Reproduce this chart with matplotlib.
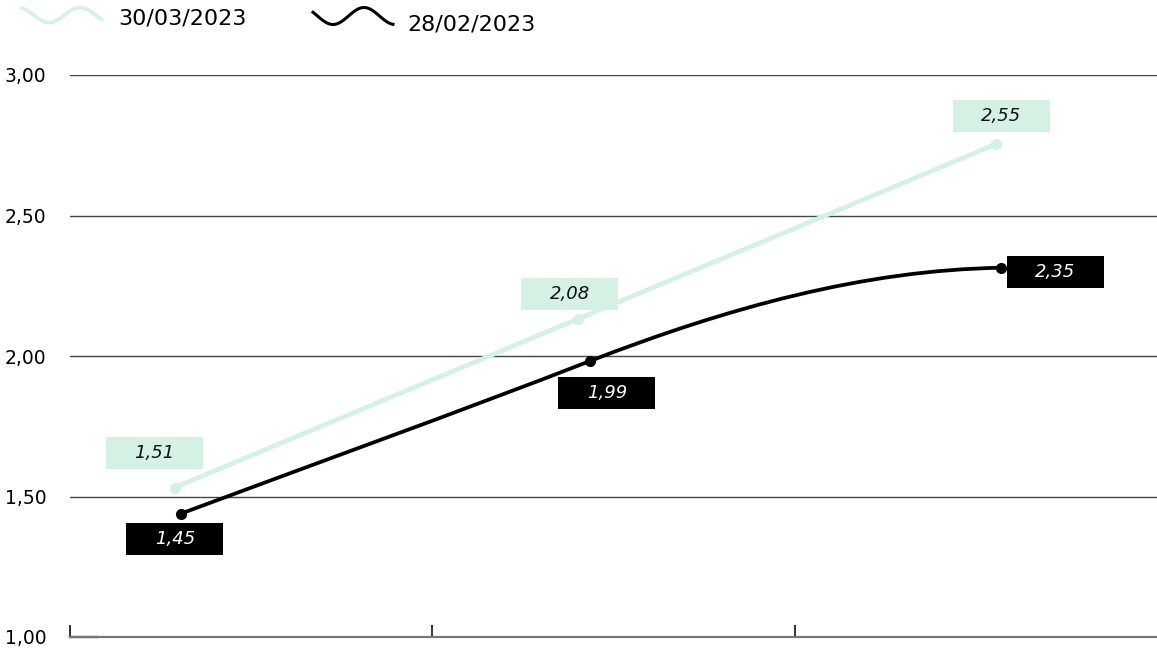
import numpy as np
import matplotlib.pyplot as plt
import matplotlib.transforms as mtransforms
from matplotlib.path import Path
from matplotlib.patches import PathPatch, Rectangle
from matplotlib.lines import Line2D

# data
series_names = ['30/03/2023', '28/02/2023']
x_light = [0.289, 1.402, 2.556]
y_light = [1.532, 2.132, 2.754]
labels_light = ['1,51', '2,08', '2,55']
x_dark = [0.306, 1.435, 2.570]
y_dark = [1.439, 1.982, 2.314]
labels_dark = ['1,45', '1,99', '2,35']
yticks = [1.0, 1.5, 2.0, 2.5, 3.0]
ytick_labels = ['1,00', '1,50', '2,00', '2,50', '3,00']

# curve shape of the dark line (tangent at each point)
dark_tangents = [0.48, 0.50, 0.02]

light = '#d5f1e3'
dark = '#000000'

W, H = 1157, 650
fig = plt.figure(figsize=(W / 100, H / 100), dpi=100)
ax = fig.add_axes([70 / W, 13 / H, 1 - 70 / W, (637 - 75) / H])
ax.set_xlim(0, 3)
ax.set_ylim(1, 3)


def hermite_path(xs, ys, ts):
    verts = [(xs[0], ys[0])]
    codes = [Path.MOVETO]
    for i in range(len(xs) - 1):
        dx = (xs[i + 1] - xs[i]) / 3
        verts += [(xs[i] + dx, ys[i] + dx * ts[i]),
                  (xs[i + 1] - dx, ys[i + 1] - dx * ts[i + 1]),
                  (xs[i + 1], ys[i + 1])]
        codes += [Path.CURVE4] * 3
    return Path(verts, codes)


# gridlines
for y in yticks[1:]:
    ax.axhline(y, color='#444444', lw=1.0, zorder=1)

ax.plot(x_light, y_light, color=light, lw=3.4, solid_capstyle='round', zorder=3)
ax.plot(x_light, y_light, 'o', color=light, ms=7, zorder=3, clip_on=False)
ax.add_patch(PathPatch(hermite_path(x_dark, y_dark, dark_tangents), fc='none', ec=dark,
                       lw=2.7, capstyle='round', zorder=5))
ax.plot(x_dark, y_dark, 'o', color=dark, ms=7, zorder=5, clip_on=False)

# value boxes, offsets in pixels from the point
off_light = [(-20, 35), (-8, 25), (5, 28)]
off_dark = [(-6, -25), (17, -32), (54, -4)]
bw, bh = 97, 32


def box(x, y, txt, off, fc, tc, z):
    tr = mtransforms.Affine2D().translate(off[0] - bw / 2, off[1] - bh / 2) + \
        mtransforms.ScaledTranslation(x, y, ax.transData)
    ax.add_patch(Rectangle((0, 0), bw, bh, transform=tr, fc=fc, ec='none',
                           zorder=z, clip_on=False))
    ttr = mtransforms.offset_copy(ax.transData, fig=fig, x=off[0], y=off[1], units='dots')
    ax.text(x, y, txt, transform=ttr, ha='center', va='center', fontsize=13,
            style='italic', color=tc, zorder=z + 0.1)


for x, y, t, o in zip(x_light, y_light, labels_light, off_light):
    box(x, y, t, o, light, '#111111', 4)
for x, y, t, o in zip(x_dark, y_dark, labels_dark, off_dark):
    box(x, y, t, o, dark, 'white', 6)

# axes styling
for sp in ['top', 'right', 'left']:
    ax.spines[sp].set_visible(False)
ax.spines['bottom'].set_color('#777777')
ax.spines['bottom'].set_linewidth(1.6)
ax.set_yticks(yticks)
ax.set_yticklabels(ytick_labels)
ax.tick_params(axis='y', length=0, pad=17, labelsize=13.5)
ax.set_xticks([0, 1, 2])
ax.set_xticklabels([])
ax.tick_params(axis='x', direction='in', length=9, width=1.3, color='#222222')
ax.plot([0, 0.075], [1, 1], color='#222222', lw=1.6, clip_on=False, zorder=2)

# legend with wavy glyphs
xw = np.linspace(22, 102, 80)
fig.add_artist(Line2D(xw / W, 1 - (15 + 7.5 * np.cos(2 * np.pi * (xw - 49) / 62)) / H,
                      color=light, lw=2.6, transform=fig.transFigure))
fig.text(118 / W, 1 - 19 / H, series_names[0], fontsize=16, va='center', ha='left')
xw = np.linspace(313, 393, 80)
fig.add_artist(Line2D(xw / W, 1 - (16 + 8.5 * np.cos(2 * np.pi * (xw - 333) / 62)) / H,
                      color=dark, lw=2.2, transform=fig.transFigure))
fig.text(407 / W, 1 - 25 / H, series_names[1], fontsize=16, va='center', ha='left')

fig.savefig('out.png', dpi=100)
